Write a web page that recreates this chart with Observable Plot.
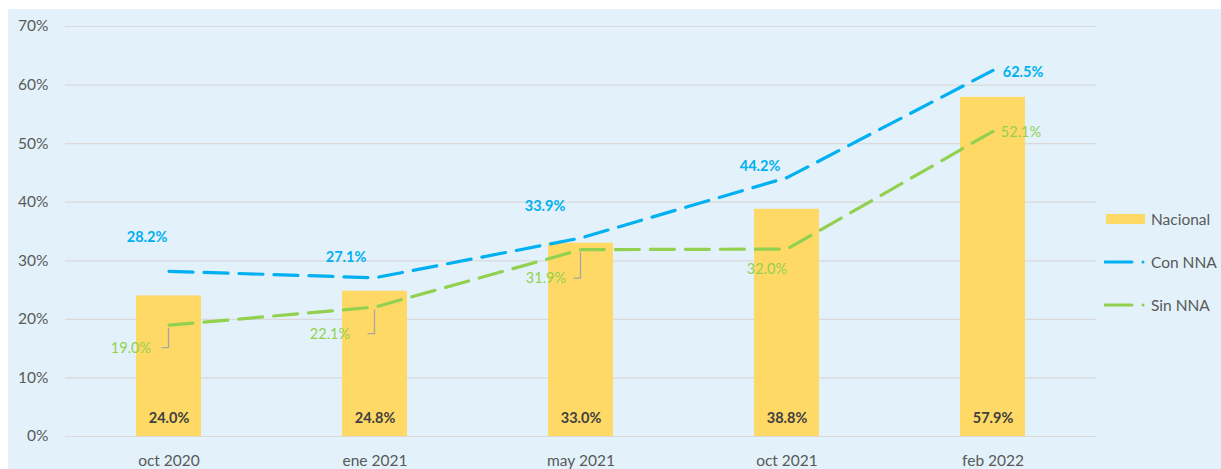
<!DOCTYPE html>
<html><head><meta charset="utf-8">
<script src="https://cdn.jsdelivr.net/npm/d3@7"></script>
<script src="https://cdn.jsdelivr.net/npm/@observablehq/plot@0.6"></script>
<style>
html,body{margin:0;padding:0;background:#fff;width:1221px;height:469px;overflow:hidden;font-family:Lato,"Open Sans",sans-serif;}
#chart{position:absolute;left:8px;top:9px;width:1213px;height:460px;background:#E3F2FA;}
#legend{position:absolute;left:1104px;top:205px;font-size:15.5px;color:#595959;}
.li{position:absolute;left:0;white-space:nowrap;height:20px;}
.li svg{position:absolute;left:0;top:0;}
.li span{position:absolute;left:47px;top:0;line-height:20px;}
</style></head>
<body>
<div id="chart"></div>
<div id="legend">
  <div class="li" style="top:4px"><svg width="44" height="20"><rect x="2" y="5" width="39" height="10" fill="#FFD966"/></svg><span>Nacional</span></div>
  <div class="li" style="top:47px"><svg width="44" height="20"><line x1="1" x2="28" y1="10" y2="10" stroke="#00B0F0" stroke-width="3" stroke-linecap="round"/><circle cx="39" cy="10" r="1.5" fill="#00B0F0"/></svg><span>Con NNA</span></div>
  <div class="li" style="top:90px"><svg width="44" height="20"><line x1="1" x2="28" y1="10" y2="10" stroke="#92D050" stroke-width="3" stroke-linecap="round"/><circle cx="39" cy="10" r="1.5" fill="#92D050"/></svg><span>Sin NNA</span></div>
</div>
<script>
const categories = ["oct 2020", "ene 2021", "may 2021", "oct 2021", "feb 2022"];
const nacional = [24.0, 24.8, 33.0, 38.8, 57.9];
const conNNA = [28.2, 27.1, 33.9, 44.2, 62.5];
const sinNNA = [19.0, 22.1, 31.9, 32.0, 52.1];
const yTicks = [0, 10, 20, 30, 40, 50, 60, 70];

// label placement (layout only, pixels)
const conOffsets = [[-22, -34], [-29, -20], [-36, -32], [-27, -11], [30, 2]];
const sinOffsets = [[-38, 23], [-45, 27], [-35, 29], [-20, 20], [28, 1]];
const sinLeader = [true, true, true, false, false];

const bars = categories.map((c, i) => ({cat: c, v: nacional[i]}));
const con = categories.map((c, i) => ({cat: c, v: conNNA[i], dx: conOffsets[i][0], dy: conOffsets[i][1]}));
const sin = categories.map((c, i) => ({cat: c, v: sinNNA[i], dx: sinOffsets[i][0], dy: sinOffsets[i][1], lead: sinLeader[i]}));
const fmt = v => v.toFixed(1) + "%";
const font = "Lato, 'Open Sans', sans-serif";

function labels(data, color, weight) {
  return data.map(d => Plot.text([d], {x: "cat", y: "v", text: d => fmt(d.v), dx: d.dx, dy: d.dy,
    fill: color, fontWeight: weight, fontSize: 14.5, fontFamily: font}));
}

function leaders(index, scales) {
  const g = d3.create("svg:g").attr("stroke", "#A6A6A6").attr("stroke-width", 1.3).attr("fill", "none");
  const bw = scales.x.bandwidth ? scales.x.bandwidth() : 0;
  sin.filter(d => d.lead).forEach(d => {
    const px = scales.x(d.cat) + bw / 2;
    const py = scales.y(d.v);
    g.append("path").attr("d", `M${px},${py + 3}V${py + d.dy}H${px - 7}`);
  });
  return g.node();
}

const chart = Plot.plot({
  width: 1213,
  height: 460,
  marginTop: 17,
  marginBottom: 33,
  marginLeft: 57,
  marginRight: 125,
  style: {background: "transparent", fontFamily: font, fontSize: "15px", color: "#595959", overflow: "visible"},
  x: {domain: categories, paddingInner: 0.685, paddingOuter: 0.3425, label: null, tickSize: 0, tickPadding: 17},
  y: {domain: [0, 70], ticks: yTicks, tickFormat: d => d + "%", label: null, tickSize: 0, tickPadding: 17},
  marks: [
    Plot.ruleY(yTicks, {stroke: "#D9D9D9", strokeWidth: 1.2}),
    Plot.axisY({ticks: yTicks, tickFormat: d => d + "%", tickSize: 0, tickPadding: 17, fill: "#595959", fontSize: 15.5, label: null}),
    Plot.axisX({tickSize: 0, tickPadding: 18, fill: "#595959", fontSize: 15.5, label: null}),
    Plot.barY(bars, {x: "cat", y: "v", fill: "#FFD966"}),
    Plot.text(bars, {x: "cat", y: 0, text: d => fmt(d.v), dy: -18, fill: "#404040", fontWeight: "bold", fontSize: 14.5}),
    Plot.line(con, {x: "cat", y: "v", stroke: "#00B0F0", strokeWidth: 3.2, strokeDasharray: "24,11", strokeLinecap: "round"}),
    Plot.line(sin, {x: "cat", y: "v", stroke: "#92D050", strokeWidth: 3.2, strokeDasharray: "24,11", strokeLinecap: "round"}),
    leaders,
    ...labels(con, "#00B0F0", "bold"),
    ...labels(sin, "#92D050", "normal")
  ]
});
document.getElementById("chart").appendChild(chart);
</script>
</body></html>
